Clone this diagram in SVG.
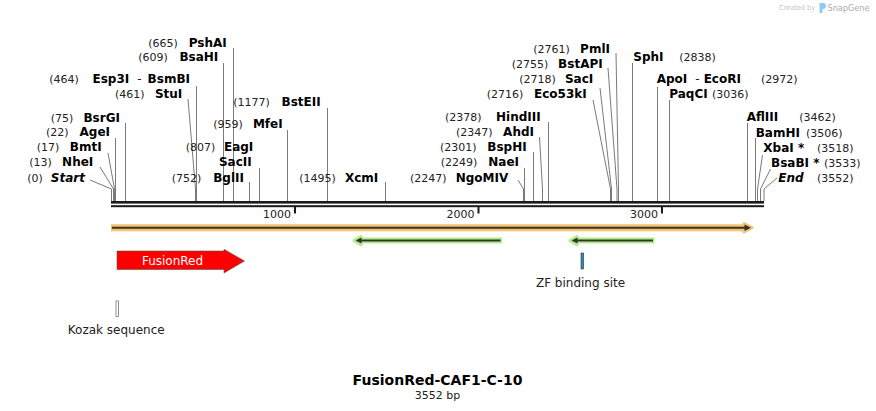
<svg xmlns="http://www.w3.org/2000/svg" width="876" height="411" viewBox="0 0 876 411">
<style>
text{font-family:"DejaVu Sans","Liberation Sans",sans-serif}
.n{font-size:11px;fill:#222}
.b{font-size:12px;font-weight:bold;fill:#000}
.e{text-anchor:end}
.cut{fill:none;stroke:#7a7a7a;stroke-width:1}
.lbl{font-size:12px;fill:#222}
</style>
<rect width="876" height="411" fill="#fff"/>

<g id="logo">
<text x="779" y="10" font-size="7" fill="#c4c4c4" textLength="36" lengthAdjust="spacingAndGlyphs">Created by</text>
<path d="M819.5,3 h3.5 a3,3 0 0 1 0,6 h-0.5 v4 h-3 Z" fill="#8fcbef"/>
<text x="827.5" y="11" font-size="9" fill="#aaa" textLength="42" lengthAdjust="spacingAndGlyphs">SnapGene</text>
</g>

<g id="connectors">
<path class="cut" d="M90,180 L111.5,189 V201"/>
<path class="cut" d="M100,167 L113.5,189 V201"/>
<path class="cut" d="M108,153 L114.5,189 V201"/>
<path class="cut" d="M115.5,138 V201"/>
<path class="cut" d="M125.5,123 V201"/>
<path class="cut" d="M188,99 L195.5,189 V201"/>
<path class="cut" d="M196.5,86 V201"/>
<path class="cut" d="M223.5,63 V201"/>
<path class="cut" d="M233.5,48 V201"/>
<path class="cut" d="M249.5,182 V201"/>
<path class="cut" d="M259.5,168 V201"/>
<path class="cut" d="M287.5,130 V201"/>
<path class="cut" d="M327.5,108 V201"/>
<path class="cut" d="M385.5,182 V201"/>
<path class="cut" d="M518,180 L523.5,189 V201"/>
<path class="cut" d="M524.5,168 V201"/>
<path class="cut" d="M533.5,152 V201"/>
<path class="cut" d="M539.5,137 L542.5,189 V201"/>
<path class="cut" d="M548.5,122 V201"/>
<path class="cut" d="M593,100 L610.5,189 V201"/>
<path class="cut" d="M600,88 L611.5,189 V201"/>
<path class="cut" d="M608,68 L617,189 V201"/>
<path class="cut" d="M616,53 L618.5,189 V201"/>
<path class="cut" d="M632.5,63 V201"/>
<path class="cut" d="M657.5,87 V201"/>
<path class="cut" d="M669.5,100 V201"/>
<path class="cut" d="M747.5,123 V201"/>
<path class="cut" d="M755.5,138 V201"/>
<path class="cut" d="M762.5,155 L757.5,189 V201"/>
<path class="cut" d="M770.5,169 L760.5,189 V201"/>
<path class="cut" d="M777,178 L764,189 V201"/>
</g>

<g id="enzymes-left">
<text class="n" x="27.3" y="181.7">(0)</text><text class="b e" x="85" y="181.7" font-style="italic">Start</text>
<text class="n" x="29.3" y="166.4">(13)</text><text class="b e" x="93.3" y="166.4">NheI</text>
<text class="n" x="36.7" y="151.4">(17)</text><text class="b e" x="101.7" y="151.4">BmtI</text>
<text class="n" x="46" y="136.1">(22)</text><text class="b e" x="110" y="136.1">AgeI</text>
<text class="n" x="50.7" y="121.5">(75)</text><text class="b e" x="120" y="121.5">BsrGI</text>
<text class="n" x="115" y="97.7">(461)</text><text class="b e" x="182.3" y="97.7">StuI</text>
<text class="n" x="49.3" y="83">(464)</text><text class="e" x="190" y="83"><tspan class="b">Esp3I</tspan><tspan class="lbl" dx="8">-</tspan><tspan class="b" dx="6">BsmBI</tspan></text>
<text class="n" x="138.3" y="61.1">(609)</text><text class="b e" x="218.3" y="61.1">BsaHI</text>
<text class="n" x="148.3" y="46.7">(665)</text><text class="b e" x="226.7" y="46.7">PshAI</text>
<text class="n" x="171.7" y="181.7">(752)</text><text class="b e" x="244" y="181.7">BglII</text>
<text class="n" x="185.7" y="151.4">(807)</text><text class="b e" x="253.3" y="151.4">EagI</text>
<text class="b e" x="251.7" y="166.4">SacII</text>
<text class="n" x="213.3" y="128.4">(959)</text><text class="b e" x="282.7" y="128.4">MfeI</text>
<text class="n" x="233.3" y="106.1">(1177)</text><text class="b e" x="320.7" y="106.1">BstEII</text>
<text class="n" x="299.3" y="181.7">(1495)</text><text class="b e" x="378.3" y="181.7">XcmI</text>
</g>

<g id="enzymes-middle">
<text class="n" x="410" y="181.7">(2247)</text><text class="b e" x="508.3" y="181.7">NgoMIV</text>
<text class="n" x="440.7" y="166.4">(2249)</text><text class="b e" x="519" y="166.4">NaeI</text>
<text class="n" x="440" y="151.4">(2301)</text><text class="b e" x="526.7" y="151.4">BspHI</text>
<text class="n" x="456" y="136.1">(2347)</text><text class="b e" x="534" y="136.1">AhdI</text>
<text class="n" x="445" y="121.1">(2378)</text><text class="b e" x="540.7" y="121.1">HindIII</text>
<text class="n" x="486.7" y="97.7">(2716)</text><text class="b e" x="586.7" y="97.7">Eco53kI</text>
<text class="n" x="519.3" y="83">(2718)</text><text class="b e" x="593.3" y="83">SacI</text>
<text class="n" x="511.7" y="67.7">(2755)</text><text class="b e" x="602.7" y="67.7">BstAPI</text>
<text class="n" x="533.3" y="52.7">(2761)</text><text class="b e" x="610" y="52.7">PmlI</text>
</g>

<g id="enzymes-right">
<text class="b" x="633.3" y="61.1">SphI</text><text class="n" x="679.3" y="61.1">(2838)</text>
<text x="656.7" y="83"><tspan class="b">ApoI</tspan><tspan class="lbl" dx="8">-</tspan><tspan class="b" dx="4">EcoRI</tspan></text><text class="n" x="761" y="83">(2972)</text>
<text class="b" x="669.3" y="97.7">PaqCI</text><text class="n" x="712" y="97.7">(3036)</text>
<text class="b" x="746.7" y="121.1">AflIII</text><text class="n" x="799.3" y="121.1">(3462)</text>
<text class="b" x="755.7" y="136.5">BamHI</text><text class="n" x="806" y="136.5">(3506)</text>
<text class="b" x="763.3" y="151.7">XbaI *</text><text class="n" x="817" y="151.7">(3518)</text>
<text class="b" x="771" y="166.7">BsaBI *</text><text class="n" x="824" y="166.7">(3533)</text>
<text class="b" x="778.3" y="181.7" font-style="italic">End</text><text class="n" x="817" y="181.7">(3552)</text>
</g>

<g id="ruler">
<rect x="111" y="201" width="653" height="2.6" fill="#1a1a1a"/>
<rect x="111" y="205.2" width="653" height="2" fill="#1a1a1a"/>
<rect x="294" y="207" width="2" height="6.5" fill="#1a1a1a"/>
<rect x="477.5" y="207" width="2" height="6.5" fill="#1a1a1a"/>
<rect x="661" y="207" width="2" height="6.5" fill="#1a1a1a"/>
<text class="e" x="291" y="217.5" font-size="11" fill="#222">1000</text>
<text class="e" x="474.5" y="217.5" font-size="11" fill="#222">2000</text>
<text class="e" x="658" y="217.5" font-size="11" fill="#222">3000</text>
</g>

<g id="feature-backbone">
<path d="M111,227.7 H746" stroke="#f7c46c" stroke-width="7" fill="none"/>
<path d="M744,223.5 L752,227.7 L744,232 Z" fill="#f7c46c" stroke="#f7c46c" stroke-width="3" stroke-linejoin="round"/>
<path d="M112,227.7 H746" stroke="#333" stroke-width="2" fill="none"/>
<path d="M744.5,224.5 L751,227.7 L744.5,231 Z" fill="#333"/>
</g>

<g id="feature-green-1">
<path d="M358,240.6 H502" stroke="#b4ec88" stroke-width="6" fill="none"/>
<path d="M354,240.6 L361,236.5 L361,244.7 Z" fill="#b4ec88" stroke="#b4ec88" stroke-width="3" stroke-linejoin="round"/>
<path d="M358,240.6 H500.5" stroke="#333" stroke-width="2" fill="none"/>
<path d="M355.5,240.6 L361.5,237.6 L361.5,243.6 Z" fill="#333"/>
</g>

<g id="feature-green-2">
<path d="M574,240.6 H654.5" stroke="#b4ec88" stroke-width="6" fill="none"/>
<path d="M570,240.6 L577,236.5 L577,244.7 Z" fill="#b4ec88" stroke="#b4ec88" stroke-width="3" stroke-linejoin="round"/>
<path d="M574,240.6 H653" stroke="#333" stroke-width="2" fill="none"/>
<path d="M571.5,240.6 L577.5,237.6 L577.5,243.6 Z" fill="#333"/>
</g>

<g id="feature-fusionred">
<path d="M117,251 H224 V249.3 L244.5,261 L224,273 V269.5 H117 Z" fill="#ff0000" stroke="#555" stroke-width="0.6"/>
<text x="172.5" y="265" font-size="12" fill="#fff" text-anchor="middle">FusionRed</text>
</g>

<g id="feature-zf">
<rect x="581" y="253" width="2.6" height="16" fill="#2a8fb8" stroke="#333" stroke-width="0.6"/>
<text class="lbl" x="580.5" y="287" text-anchor="middle">ZF binding site</text>
</g>

<g id="feature-kozak">
<rect x="116" y="301" width="2.4" height="15.5" fill="#fff" stroke="#777" stroke-width="0.8"/>
<text class="lbl" x="116.2" y="334" text-anchor="middle">Kozak sequence</text>
</g>

<g id="title">
<text x="437.5" y="385" font-size="14" font-weight="bold" fill="#000" text-anchor="middle">FusionRed-CAF1-C-10</text>
<text x="437.5" y="399" font-size="11" fill="#222" text-anchor="middle">3552 bp</text>
</g>
</svg>
